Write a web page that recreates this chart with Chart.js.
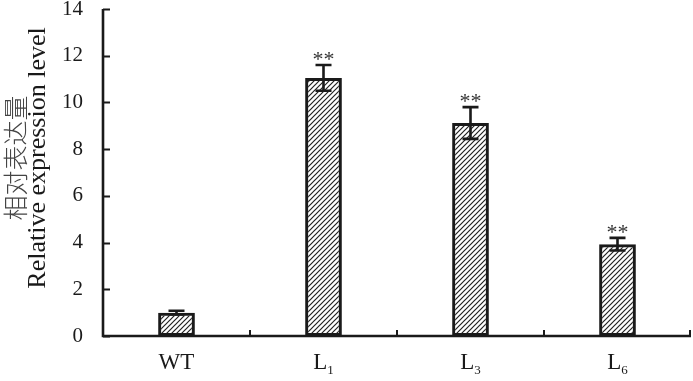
<!DOCTYPE html>
<html>
<head>
<meta charset="utf-8">
<script src="https://cdn.jsdelivr.net/npm/chart.js@4.4.0/dist/chart.umd.min.js"></script>
<style>
  html, body { margin: 0; padding: 0; background: #fff; }
</style>
</head>
<body>
<canvas id="chart" width="693" height="381"></canvas>
<script>
  "use strict";
  // data
  const categories = ["WT", "L1", "L3", "L6"];
  const labelMain = ["WT", "L", "L", "L"];
  const labelSub = ["", "1", "3", "6"];
  const expression = [1.0, 11.05, 9.12, 3.93];
  const errors = [0.08, 0.55, 0.68, 0.27];
  const marks = ["", "**", "**", "**"];
  const yMin = 0;
  const yMax = 14;
  const yStep = 2;
  const yTitleCn = "相对表达量";
  const yTitleEn = "Relative expression level";

  const INK = "#1a1a1a";
  const SERIF = "'Liberation Serif', 'Times New Roman', serif";

  function makeHatch() {
    const tile = document.createElement("canvas");
    tile.width = 5;
    tile.height = 5;
    const g = tile.getContext("2d");
    g.strokeStyle = "#222";
    g.lineWidth = 1.2;
    g.beginPath();
    g.moveTo(0, 5); g.lineTo(5, 0);
    g.moveTo(-1, 1); g.lineTo(1, -1);
    g.moveTo(4, 6); g.lineTo(6, 4);
    g.stroke();
    return g.createPattern(tile, "repeat");
  }

  const decorations = {
    id: "decorations",
    afterDatasetsDraw(chart) {
      const ctx = chart.ctx;
      const x = chart.scales.x;
      const y = chart.scales.y;
      ctx.save();
      ctx.strokeStyle = INK;
      ctx.fillStyle = INK;
      ctx.lineWidth = 2.6;
      expression.forEach((v, i) => {
        const cx = x.getPixelForValue(i);
        const hi = y.getPixelForValue(v + errors[i]);
        const lo = y.getPixelForValue(v - errors[i]);
        const half = 8;
        ctx.beginPath();
        ctx.moveTo(cx, hi); ctx.lineTo(cx, lo);
        ctx.moveTo(cx - half, hi); ctx.lineTo(cx + half, hi);
        ctx.moveTo(cx - half, lo); ctx.lineTo(cx + half, lo);
        ctx.stroke();
        if (marks[i]) {
          ctx.font = "22px " + SERIF;
          ctx.textAlign = "center";
          ctx.textBaseline = "alphabetic";
          ctx.fillStyle = "#333";
          ctx.fillText(marks[i], cx, hi + 1);
        }
      });
      ctx.restore();
    },
    afterDraw(chart) {
      const ctx = chart.ctx;
      const area = chart.chartArea;
      const x = chart.scales.x;
      const y = chart.scales.y;
      ctx.save();
      ctx.strokeStyle = INK;
      ctx.lineWidth = 2.6;
      // axes
      ctx.beginPath();
      ctx.moveTo(area.left, area.top);
      ctx.lineTo(area.left, area.bottom);
      ctx.lineTo(area.right, area.bottom);
      ctx.stroke();
      // inward ticks
      ctx.lineWidth = 2;
      ctx.beginPath();
      for (let v = yMin; v <= yMax; v += yStep) {
        const py = Math.round(y.getPixelForValue(v)) + 0.5;
        ctx.moveTo(area.left, py);
        ctx.lineTo(area.left + 7, py);
      }
      for (let i = 0; i < categories.length; i++) {
        const px = (x.getPixelForValue(i) + x.getPixelForValue(i + 1)) / 2;
        const bx = i === categories.length - 1 ? area.right - 1 : px;
        ctx.moveTo(bx, area.bottom);
        ctx.lineTo(bx, area.bottom - 6);
      }
      ctx.stroke();
      // category labels with subscripts
      ctx.fillStyle = INK;
      ctx.textBaseline = "alphabetic";
      categories.forEach((c, i) => {
        const cx = x.getPixelForValue(i);
        ctx.font = "23px " + SERIF;
        const wMain = ctx.measureText(labelMain[i]).width;
        ctx.font = "13px " + SERIF;
        const wSub = labelSub[i] ? ctx.measureText(labelSub[i]).width : 0;
        const start = cx - (wMain + wSub) / 2;
        ctx.textAlign = "left";
        ctx.font = "23px " + SERIF;
        ctx.fillText(labelMain[i], start, 369);
        if (labelSub[i]) {
          ctx.font = "13px " + SERIF;
          ctx.fillText(labelSub[i], start + wMain, 374);
        }
      });
      // y titles
      const midY = 158;
      ctx.textAlign = "center";
      ctx.textBaseline = "middle";
      ctx.save();
      ctx.translate(15, midY);
      ctx.rotate(-Math.PI / 2);
      ctx.fillStyle = "#444";
      ctx.font = "300 25px 'Noto Sans CJK SC', sans-serif";
      ctx.fillText(yTitleCn, 0, 0);
      ctx.restore();
      ctx.save();
      ctx.translate(38, midY);
      ctx.rotate(-Math.PI / 2);
      ctx.font = "26px " + SERIF;
      ctx.fillText(yTitleEn, 0, 0);
      ctx.restore();
      ctx.restore();
    },
  };

  new Chart(document.getElementById("chart").getContext("2d"), {
    type: "bar",
    data: {
      labels: categories,
      datasets: [
        {
          data: expression,
          backgroundColor: makeHatch(),
          borderColor: INK,
          borderWidth: 3,
          borderSkipped: false,
          barPercentage: 0.25,
          categoryPercentage: 1,
        },
      ],
    },
    options: {
      responsive: false,
      animation: false,
      events: [],
      layout: { padding: { top: 9, right: 2, left: 0, bottom: 0 } },
      plugins: { legend: { display: false }, tooltip: { enabled: false } },
      scales: {
        x: {
          ticks: { display: false },
          grid: { display: false, drawTicks: false },
          border: { display: false },
          afterFit(s) { s.height = 45; s.paddingLeft = 0; s.paddingRight = 0; },
        },
        y: {
          min: yMin,
          max: yMax,
          ticks: {
            stepSize: yStep,
            padding: 20,
            color: INK,
            font: { family: SERIF, size: 21 },
          },
          grid: { display: false, drawTicks: false },
          border: { display: false },
          afterFit(s) { s.width = 103; s.paddingTop = 0; s.paddingBottom = 0; },
        },
      },
    },
    plugins: [decorations],
  });
</script>
</body>
</html>
